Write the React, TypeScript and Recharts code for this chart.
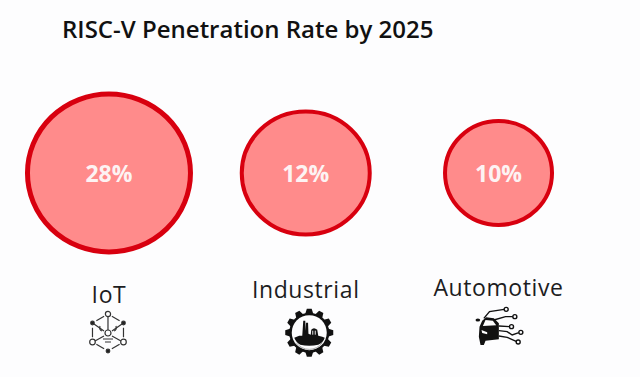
import React from "react";
import { ScatterChart, Scatter, XAxis, YAxis } from "recharts";

const CATEGORIES = ["IoT", "Industrial", "Automotive"];
const RATES = [28, 12, 10];
const TITLE = "RISC-V Penetration Rate by 2025";

const chartData = CATEGORIES.map((category, i) => ({ category, rate: RATES[i], level: 1 }));

const FONT = "'Open Sans', 'Noto Sans', sans-serif";
const INK = "#1d1d1f";
const PAPER = "#fdfdfe";

// bubbles in the picture are not scaled to their value, so they get their own look
const BUBBLE_LOOK: Record<string, { rx: number; ry: number; dx: number; stroke: number }> = {
    IoT: { rx: 81.5, ry: 79, dx: 0, stroke: 5 },
    Industrial: { rx: 64, ry: 61.5, dx: 2, stroke: 4 },
    Automotive: { rx: 53.5, ry: 52, dx: 0, stroke: 4 }
};
const LABEL_LOOK: Record<string, { y: number; dx: number }> = {
    IoT: { y: 303, dx: 0 },
    Industrial: { y: 298, dx: 2 },
    Automotive: { y: 296, dx: 0 }
};

const Bubble = (props: any) => {
    const { cx, cy, payload } = props;
    const look = BUBBLE_LOOK[payload.category];
    const x = cx + look.dx;
    return (
        <g>
            <ellipse cx={x} cy={cy} rx={look.rx} ry={look.ry} fill="#ff8b8b" stroke="#d8000f" strokeWidth={look.stroke} />
            <text
                x={x}
                y={cy + 9}
                textAnchor="middle"
                fontFamily={FONT}
                fontWeight={700}
                fontSize={23}
                fill="#fdf3f3">
                {payload.rate}%
            </text>
        </g>
    );
};

const IotIcon = ({ x, y }: { x: number; y: number }) => {
    const top = [0, -19];
    const ur = [15.5, -10];
    const lr = [15.5, 9];
    const bot = [0, 18];
    const ll = [-15.5, 9];
    const ul = [-15.5, -10];
    const ring = [top, ur, lr, bot, ll, ul];
    return (
        <g transform={`translate(${x},${y})`} stroke="#333" fill="none" strokeWidth={1.2}>
            {ring.map((p, i) => {
                const q = ring[(i + 1) % 6];
                const ax = p[0] + (q[0] - p[0]) * 0.25;
                const ay = p[1] + (q[1] - p[1]) * 0.25;
                const bx = p[0] + (q[0] - p[0]) * 0.75;
                const by = p[1] + (q[1] - p[1]) * 0.75;
                return <path key={i} d={`M${ax},${ay}L${bx},${by}`} />;
            })}
            <path d="M0,-17V-3M-14,-9L-4,-2M14,-9L4,-2M-13,8L-4,3M13,8L4,3" />
            <path d="M-8,-7Q-9,-3 -6,-2M8,-7Q9,-3 6,-2M-5,6H5M-3,9H3" />
            <circle cx={0} cy={-19} r={2.6} fill="#fff" />
            <circle cx={15.5} cy={9} r={2.8} fill="#fff" />
            <circle cx={-15.5} cy={9} r={2.8} fill="#fff" />
            <circle cx={0} cy={0} r={3} fill="#fff" />
            <circle cx={15.5} cy={-10} r={1.8} fill="#222" />
            <circle cx={-15.5} cy={-10} r={1.8} fill="#222" />
            <circle cx={0} cy={18} r={1.8} fill="#222" />
        </g>
    );
};

const gearTeeth = [0, 30, 60, 90, 120, 150, 180, 210, 240, 270, 300, 330];

const GearIcon = ({ x, y }: { x: number; y: number }) => (
    <g transform={`translate(${x},${y})`}>
        {gearTeeth.map((a) => (
            <path key={a} d="M-4.6,-17 L-2.4,-24 H2.4 L4.6,-17 Z" fill="#111" transform={`rotate(${a})`} />
        ))}
        <circle r={20} fill="#111" />
        <circle r={17.5} fill={PAPER} />
        <path
            d="M-15,5 L-10,3 L-7,3 L-6,-12 L-4,-12 L-3.4,-2 L-3.2,-10 L-1.2,-10 L-0.8,1 L1.5,2 L2,-3 Q4.5,-6 8,-3 L9,3 L13,4 L15.5,5 Q14,10 9,12 Q0,14 -9,12 Q-13,10 -15,5 Z"
            fill="#111"
        />
        <path d="M3.5,-2 V2 M6,-2 V2" stroke={PAPER} strokeWidth={0.9} />
        <path d="M-13,10 A16,16 0 0 0 13,10" fill="none" stroke="#aaa" strokeWidth={1} />
    </g>
);

// drawn in a 3x grid, that is why the scale below
const CarIcon = ({ x, y }: { x: number; y: number }) => (
    <g transform={`translate(${x},${y}) scale(0.3333) translate(-99,-90)`}>
        <path d="M42,80 L50,62 L62,52 L85,55 L100,70 L100,118 L60,122 L55,135 L45,135 L40,110 Z" fill="#111" />
        <path d="M52,78 L60,60 L82,62 L92,76 Z" fill={PAPER} />
        <path d="M48,90 L65,97 L65,103 L50,99 Z" fill={PAPER} />
        <ellipse cx={37} cy={60} rx={7} ry={4.5} fill="#111" />
        <g fill="none" stroke="#111" strokeWidth={4.2}>
            <path d="M55,55 L72,35 L116,28" />
            <path d="M85,60 L120,50 L142,50" />
            <path d="M100,78 L132,80" />
            <path d="M100,92 L125,95 L140,105 L160,98" />
            <path d="M100,108 L125,112 L152,124" />
            <circle cx={122} cy={28} r={6} fill={PAPER} />
            <circle cx={148} cy={50} r={6} fill={PAPER} />
            <circle cx={138} cy={80} r={6} fill={PAPER} />
            <circle cx={166} cy={97} r={6} fill={PAPER} />
            <circle cx={158} cy={126} r={6} fill={PAPER} />
        </g>
    </g>
);

const CategoryTick = (props: any) => {
    const { x, payload } = props;
    const look = LABEL_LOOK[payload.value];
    return (
        <g>
            <text
                x={x + look.dx}
                y={look.y}
                textAnchor="middle"
                fontFamily={FONT}
                fontSize={23}
                letterSpacing={0.6}
                fill={INK}>
                {payload.value}
            </text>
            {payload.value === "IoT" && <IotIcon x={x - 1} y={333} />}
            {payload.value === "Industrial" && <GearIcon x={x + 5.5} y={332.7} />}
            {payload.value === "Automotive" && <CarIcon x={x} y={330} />}
        </g>
    );
};

export default function App() {
    return (
        <div style={{ position: "absolute", left: 0, top: 0, width: 640, height: 377, background: PAPER }}>
            <ScatterChart width={640} height={377} margin={{ top: 75, right: 44.1, bottom: 0, left: 11.6 }}>
                <text x={62} y={38} fontFamily={FONT} fontWeight={600} fontSize={24} fill="#111">
                    {TITLE}
                </text>
                <XAxis
                    type="category"
                    dataKey="category"
                    allowDuplicatedCategory={false}
                    axisLine={false}
                    tickLine={false}
                    height={106}
                    interval={0}
                    tick={<CategoryTick />}
                />
                <YAxis type="number" dataKey="level" domain={[0, 2]} hide />
                <Scatter data={chartData} shape={<Bubble />} isAnimationActive={false} />
            </ScatterChart>
        </div>
    );
}
